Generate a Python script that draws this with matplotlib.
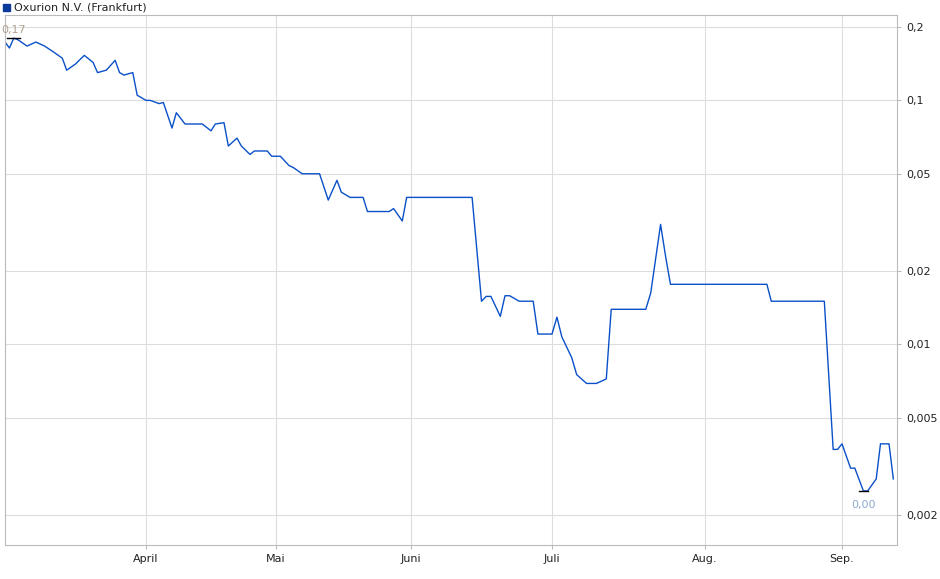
import matplotlib
matplotlib.use("Agg")
import matplotlib.pyplot as plt
import matplotlib.ticker as mt
import matplotlib.dates as mdates
import numpy as np
import pandas as pd

start = pd.Timestamp("2023-02-28")
days = [0,1,2,3,5,7,9,11,13,14,16,18,20,21,23,25,26,27,29,30,32,33,35,36,38,39,41,42,44,45,47,48,50,51,53,54,56,57,59,60,61,63,65,66,68,70,71,72,74,76,77,79,80,82,83,85,86,88,89,91,92,94,106,108,109,110,112,113,114,116,117,119,120,122,123,124,125,127,128,130,131,132,134,135,137,138,139,141,142,143,145,146,147,149,168,169,181,183,184,185,187,188,190,191,193,194,196,197]
values = [0.1735,0.164,0.180,0.177,0.167,0.1735,0.167,0.158,0.149,0.133,0.141,0.153,0.143,0.130,0.133,0.146,0.130,0.127,0.130,0.105,0.100,0.100,0.097,0.098,0.077,0.089,0.080,0.080,0.080,0.080,0.075,0.080,0.081,0.065,0.070,0.065,0.060,0.062,0.062,0.062,0.059,0.059,0.054,0.053,0.050,0.050,0.050,0.050,0.039,0.047,0.042,0.040,0.040,0.040,0.035,0.035,0.035,0.035,0.036,0.032,0.040,0.040,0.040,0.015,0.0157,0.0157,0.013,0.0158,0.0158,0.015,0.015,0.015,0.011,0.011,0.011,0.0129,0.0107,0.0088,0.0075,0.0069,0.0069,0.0069,0.0072,0.0139,0.0139,0.0139,0.0139,0.0139,0.0139,0.0162,0.031,0.023,0.0176,0.0176,0.0176,0.015,0.015,0.0037,0.0037,0.0039,0.0031,0.0031,0.0025,0.0025,0.0028,0.0039,0.0039,0.0028]
yticks = [0.002,0.005,0.01,0.02,0.05,0.1,0.2]
ylabels = ["0,002","0,005","0,01","0,02","0,05","0,1","0,2"]
months = ["2023-04-01","2023-05-01","2023-06-01","2023-07-01","2023-08-01","2023-09-01"]
mlabels = ["April","Mai","Juni","Juli","Aug.","Sep."]

dates = [start + pd.Timedelta(days=d) for d in days]

# non-uniform time axis (trading-day spacing) anchored at month starts
anc_dates = pd.to_datetime(["2023-02-18","2023-02-28","2023-04-01","2023-05-01","2023-06-01","2023-07-01","2023-08-01","2023-09-01","2023-09-30"])
anc_num = mdates.date2num(anc_dates)
anc_pos = np.array([-39.0, 5, 146, 276, 411, 552, 705, 842, 966])
fwd = lambda v: np.interp(v, anc_num, anc_pos)
inv = lambda v: np.interp(v, anc_pos, anc_num)

fig = plt.figure(figsize=(9.4,5.79), dpi=100)
ax = fig.add_axes([5/940, 1-545/579, 892/940, 530/579])
ax.plot(dates, values, color="#0a50c8", lw=1)
ax.set_xscale("function", functions=(fwd, inv))
ax.set_yscale("log")
ax.set_ylim(0.0015, 0.224)
ax.set_xlim(mdates.num2date(inv(5)), mdates.num2date(inv(897)))
ax.yaxis.set_minor_locator(mt.NullLocator())
ax.set_yticks(yticks, ylabels)
ax.yaxis.set_minor_locator(mt.NullLocator())
ax.yaxis.tick_right()
ax.set_xticks(mdates.date2num(pd.to_datetime(months)), mlabels)
ax.xaxis.set_minor_locator(mt.NullLocator())
ax.tick_params(labelsize=8, length=3, color="#bbbbbb", colors="#222222")
ax.grid(True, color="#dddddd", lw=0.8)
for s in ax.spines.values():
    s.set_color("#bbbbbb")
imax = values.index(max(values)); imin = values.index(min(values))
ax.plot([dates[imax]-pd.Timedelta(days=1.5), dates[imax]+pd.Timedelta(days=1.5)], [values[imax]]*2, color="black", lw=1)
ax.plot([dates[imin]-pd.Timedelta(days=1), dates[imin]+pd.Timedelta(days=1)], [values[imin]]*2, color="black", lw=1)
ax.annotate("0,17", (dates[imax], values[imax]), xytext=(0,4), textcoords="offset points", color="#b0a090", fontsize=8, ha="center")
ax.annotate("0,00", (dates[imin], values[imin]), xytext=(0,-12), textcoords="offset points", color="#8aaad0", fontsize=8, ha="center")
fig.patches.append(plt.Rectangle((3/940, 1-11/579), 7/940, 7/579, transform=fig.transFigure, color="#0a3a9a"))
fig.text(14/940, 1-7/579, "Oxurion N.V. (Frankfurt)", fontsize=8, va="center", color="#222222")
fig.savefig("out.png")
